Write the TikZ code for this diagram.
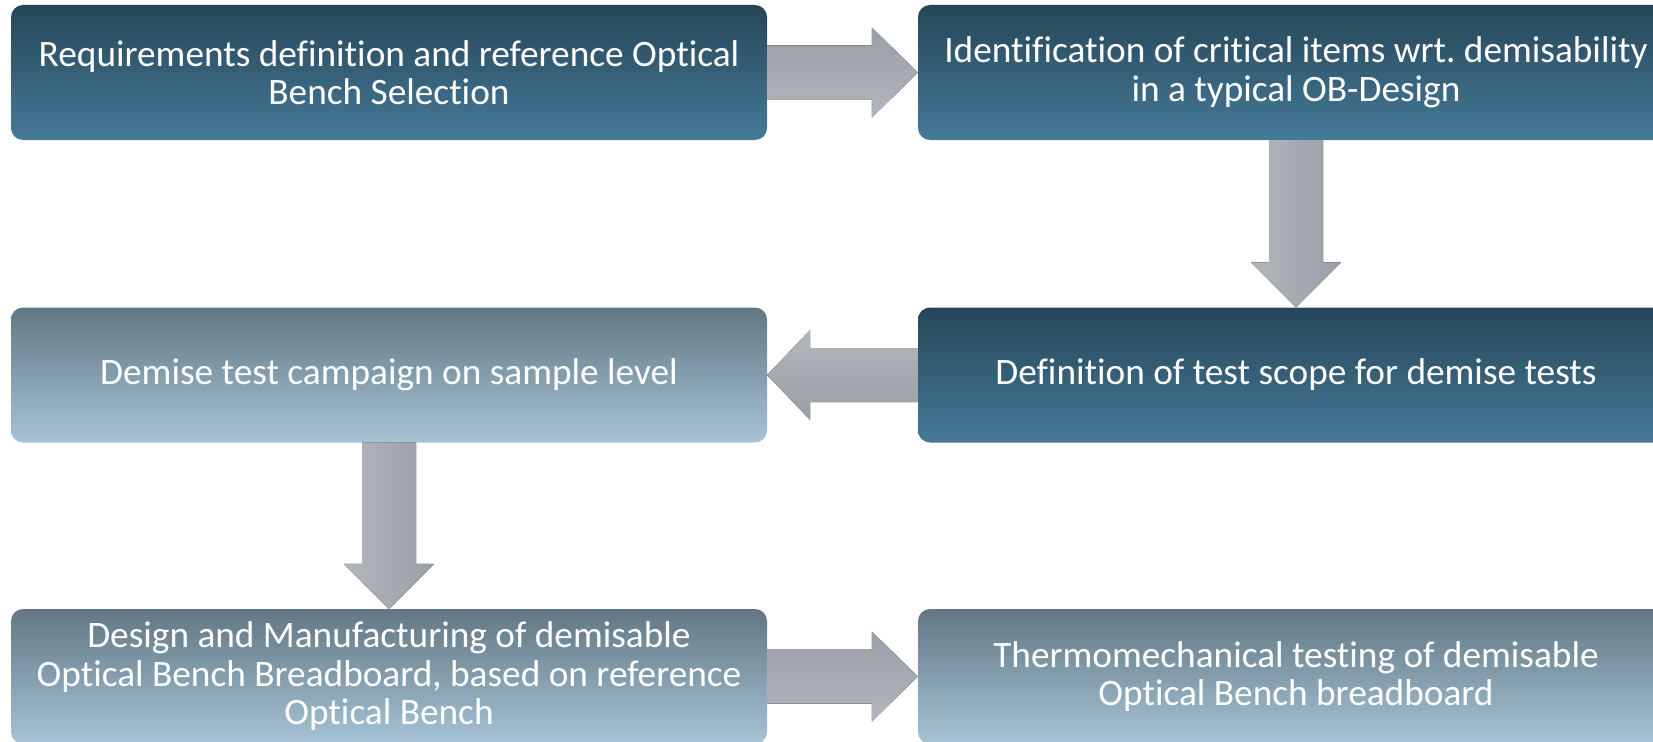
\documentclass[tikz,border=0pt]{standalone}
\usepackage{fontspec}
\setmainfont{Carlito}[RawFeature=-liga]
\usetikzlibrary{calc}

\definecolor{darktop}{HTML}{264657}
\definecolor{darkbot}{HTML}{467A99}
\definecolor{lighttop}{HTML}{627783}
\definecolor{lightbot}{HTML}{A6C4D6}
\definecolor{arrowlight}{HTML}{B3B6BC}
\definecolor{arrowdark}{HTML}{9A9EA6}

\tikzset{
  stepdark/.style={
    rounded corners=12pt,
    minimum width=756pt,
    minimum height=135pt,
    inner sep=0pt,
    top color=darktop,
    bottom color=darkbot,
    text=white,
    align=center,
    font=\fontsize{37.3}{38.5}\selectfont\frenchspacing
  },
  steplight/.style={
    stepdark,
    top color=lighttop,
    bottom color=lightbot
  }
}

\begin{document}
\begin{tikzpicture}[
  x=1pt,
  y=-1pt,
  line join=miter
]
  \def\sw{27}
  \def\hw{45}
  \def\hl{46}

  \clip (0,0) rectangle (1653,741);

  % Erste Zeile
  \node[stepdark] (req) at (389,72.5)
    {Requirements definition and reference Optical\\Bench Selection};
  \node[stepdark] (crit) at (1296,72.5)
    {Identification of critical items wrt. demisability\\in a typical OB-Design};

  % Zweite Zeile
  \node[steplight] (campaign) at (389,375)
    {Demise test campaign on sample level};
  \node[stepdark] (scope) at (1296,375)
    {Definition of test scope for demise tests};

  % Dritte Zeile
  \node[steplight] (design) at (389,676.5)
    {Design and Manufacturing of demisable\\Optical Bench Breadboard, based on reference\\Optical Bench};
  \node[steplight] (thermo) at (1296,676.5)
    {Thermomechanical testing of demisable\\Optical Bench breadboard};

  % Pfeil nach rechts
  \fill[top color=arrowdark, bottom color=arrowlight]
    ($(req.east)+(0,-\sw)$) -- ($(crit.west)+(-\hl,-\sw)$)
    -- ($(crit.west)+(-\hl,-\hw)$) -- (crit.west)
    -- ($(crit.west)+(-\hl,\hw)$) -- ($(crit.west)+(-\hl,\sw)$)
    -- ($(req.east)+(0,\sw)$) -- cycle;

  % Pfeil nach unten
  \fill[left color=arrowlight, right color=arrowdark]
    ($(crit.south)+(-\sw,0)$) -- ($(scope.north)+(-\sw,-\hw)$)
    -- ($(scope.north)+(-\hw,-\hw)$) -- (scope.north)
    -- ($(scope.north)+(\hw,-\hw)$) -- ($(scope.north)+(\sw,-\hw)$)
    -- ($(crit.south)+(\sw,0)$) -- cycle;

  % Pfeil nach links
  \fill[top color=arrowlight, bottom color=arrowdark]
    ($(scope.west)+(0,-\sw)$) -- ($(campaign.east)+(43,-\sw)$)
    -- ($(campaign.east)+(43,-\hw)$) -- (campaign.east)
    -- ($(campaign.east)+(43,\hw)$) -- ($(campaign.east)+(43,\sw)$)
    -- ($(scope.west)+(0,\sw)$) -- cycle;

  % Pfeil nach unten
  \fill[left color=arrowlight, right color=arrowdark]
    ($(campaign.south)+(-\sw,0)$) -- ($(design.north)+(-\sw,-\hw)$)
    -- ($(design.north)+(-\hw,-\hw)$) -- (design.north)
    -- ($(design.north)+(\hw,-\hw)$) -- ($(design.north)+(\sw,-\hw)$)
    -- ($(campaign.south)+(\sw,0)$) -- cycle;

  % Pfeil nach rechts
  \fill[top color=arrowdark, bottom color=arrowlight]
    ($(design.east)+(0,-\sw)$) -- ($(thermo.west)+(-\hl,-\sw)$)
    -- ($(thermo.west)+(-\hl,-\hw)$) -- (thermo.west)
    -- ($(thermo.west)+(-\hl,\hw)$) -- ($(thermo.west)+(-\hl,\sw)$)
    -- ($(design.east)+(0,\sw)$) -- cycle;
\end{tikzpicture}
\end{document}
